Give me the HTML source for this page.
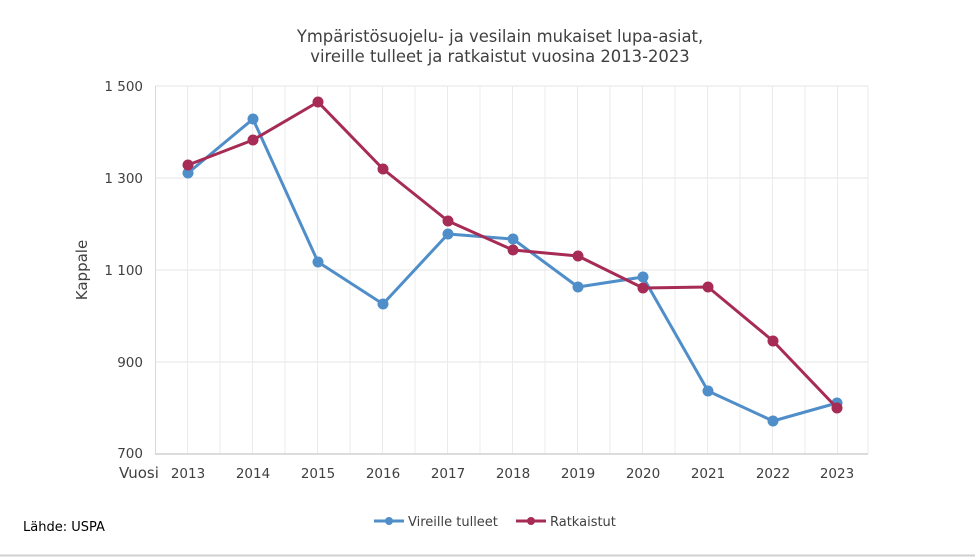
<!DOCTYPE html>
<html><head><meta charset="utf-8"><style>
body{margin:0;background:#fff;}
svg{display:block;font-family:"DejaVu Sans","Liberation Sans",sans-serif;}
</style></head><body>
<svg width="975" height="557" viewBox="0 0 975 557">
<rect width="975" height="557" fill="#fff"/>
<line x1="0" y1="555.5" x2="975" y2="555.5" stroke="#d0d0d0" stroke-width="2"/>
<text x="500" y="42" text-anchor="middle" font-size="16.4" fill="#404040">Ympäristösuojelu- ja vesilain mukaiset lupa-asiat,</text>
<text x="500" y="62" text-anchor="middle" font-size="16.4" fill="#404040">vireille tulleet ja ratkaistut vuosina 2013-2023</text>
<g stroke="#e6e6e6" stroke-width="1">
<line x1="155" y1="86" x2="868" y2="86"/><line x1="155" y1="178" x2="868" y2="178"/>
<line x1="155" y1="270" x2="868" y2="270"/><line x1="155" y1="362" x2="868" y2="362"/>
</g>
<g stroke="#ebebeb" stroke-width="1">
<line x1="187.5" y1="86" x2="187.5" y2="454"/><line x1="220" y1="86" x2="220" y2="454"/><line x1="252.5" y1="86" x2="252.5" y2="454"/><line x1="285" y1="86" x2="285" y2="454"/><line x1="317.5" y1="86" x2="317.5" y2="454"/><line x1="350" y1="86" x2="350" y2="454"/><line x1="382.5" y1="86" x2="382.5" y2="454"/><line x1="415" y1="86" x2="415" y2="454"/><line x1="447.5" y1="86" x2="447.5" y2="454"/><line x1="480" y1="86" x2="480" y2="454"/><line x1="512.5" y1="86" x2="512.5" y2="454"/><line x1="545" y1="86" x2="545" y2="454"/><line x1="577.5" y1="86" x2="577.5" y2="454"/><line x1="610" y1="86" x2="610" y2="454"/><line x1="642.5" y1="86" x2="642.5" y2="454"/><line x1="675" y1="86" x2="675" y2="454"/><line x1="707.5" y1="86" x2="707.5" y2="454"/><line x1="740" y1="86" x2="740" y2="454"/><line x1="772.5" y1="86" x2="772.5" y2="454"/><line x1="805" y1="86" x2="805" y2="454"/><line x1="837.5" y1="86" x2="837.5" y2="454"/><line x1="868" y1="86" x2="868" y2="454"/>
</g>
<line x1="155.5" y1="86" x2="155.5" y2="454" stroke="#d9d9d9"/>
<line x1="155" y1="454" x2="868" y2="454" stroke="#d0d0d0" stroke-width="1.5"/>
<g font-size="13.5" fill="#404040" text-anchor="end">
<text x="143" y="91">1 500</text><text x="143" y="183">1 300</text><text x="143" y="275">1 100</text><text x="143" y="367">900</text><text x="143" y="458">700</text>
</g>
<text x="87" y="270" font-size="15" fill="#404040" text-anchor="middle" transform="rotate(-90 87 270)">Kappale</text>
<text x="119" y="478" font-size="15" fill="#404040">Vuosi</text>
<g font-size="13.5" fill="#404040" text-anchor="middle">
<text x="188" y="478">2013</text><text x="253" y="478">2014</text><text x="318" y="478">2015</text><text x="383" y="478">2016</text><text x="448" y="478">2017</text><text x="513" y="478">2018</text><text x="578" y="478">2019</text><text x="643" y="478">2020</text><text x="708" y="478">2021</text><text x="773" y="478">2022</text><text x="837" y="478">2023</text>
</g>
<polyline fill="none" stroke="#4f8ec9" stroke-width="3" stroke-linejoin="round" points="188,173 253,119 318,262 383,304 448,234 513,239 578,287 643,277 708,391 773,421 837,403"/>
<g fill="#4f8ec9"><circle cx="188" cy="173" r="5.5"/><circle cx="253" cy="119" r="5.5"/><circle cx="318" cy="262" r="5.5"/><circle cx="383" cy="304" r="5.5"/><circle cx="448" cy="234" r="5.5"/><circle cx="513" cy="239" r="5.5"/><circle cx="578" cy="287" r="5.5"/><circle cx="643" cy="277" r="5.5"/><circle cx="708" cy="391" r="5.5"/><circle cx="773" cy="421" r="5.5"/><circle cx="837" cy="403" r="5.5"/></g>
<polyline fill="none" stroke="#a72c55" stroke-width="3" stroke-linejoin="round" points="188,165 253,140 318,102 383,169 448,221 513,250 578,256 643,288 708,287 773,341 837,408"/>
<g fill="#a72c55"><circle cx="188" cy="165" r="5.5"/><circle cx="253" cy="140" r="5.5"/><circle cx="318" cy="102" r="5.5"/><circle cx="383" cy="169" r="5.5"/><circle cx="448" cy="221" r="5.5"/><circle cx="513" cy="250" r="5.5"/><circle cx="578" cy="256" r="5.5"/><circle cx="643" cy="288" r="5.5"/><circle cx="708" cy="287" r="5.5"/><circle cx="773" cy="341" r="5.5"/><circle cx="837" cy="408" r="5.5"/></g>
<line x1="374" y1="521" x2="404" y2="521" stroke="#4f8ec9" stroke-width="3"/><circle cx="389" cy="521" r="4" fill="#4f8ec9"/>
<text x="408" y="526" font-size="13" fill="#404040">Vireille tulleet</text>
<line x1="516" y1="521" x2="546" y2="521" stroke="#a72c55" stroke-width="3"/><circle cx="531" cy="521" r="4" fill="#a72c55"/>
<text x="550" y="526" font-size="13" fill="#404040">Ratkaistut</text>
<text x="23" y="531" font-size="13" fill="#000">Lähde: USPA</text>
</svg>
</body></html>
